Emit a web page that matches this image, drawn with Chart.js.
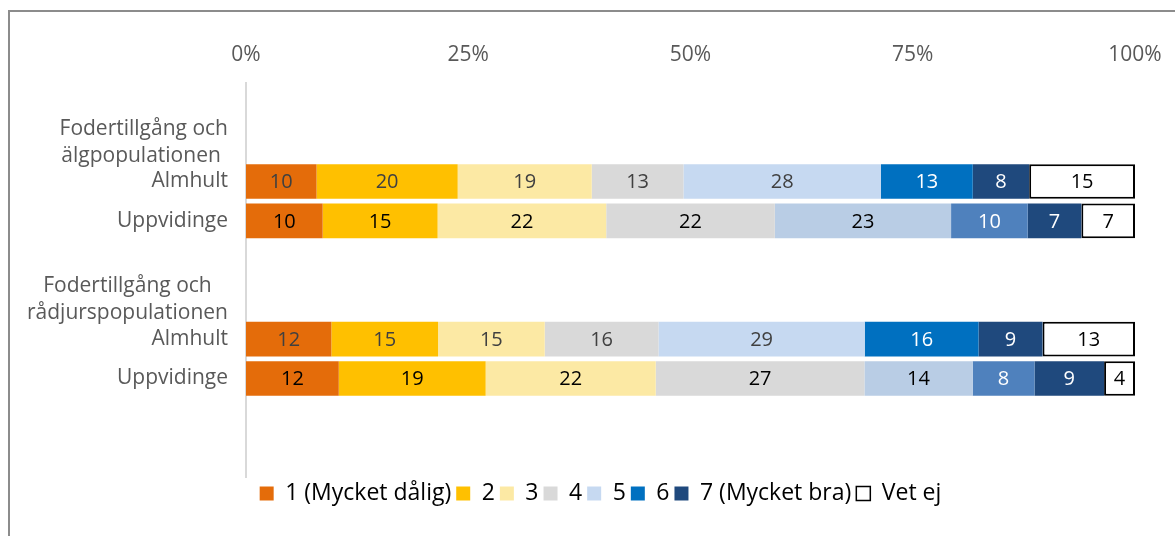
<!DOCTYPE html>
<html>
<head>
<meta charset="utf-8">
<script src="https://cdn.jsdelivr.net/npm/chart.js@4.4.0/dist/chart.umd.min.js"></script>
<style>
html, body { margin: 0; padding: 0; background: #fff; overflow: hidden; }
#ram { position: absolute; left: 8px; top: 10px; width: 1190px; height: 540px; border: 2px solid #8c8c8c; box-sizing: border-box; }
#wrap { position: absolute; left: 0; top: 0; width: 1175px; height: 536px; }
</style>
</head>
<body>
<div id="ram"></div>
<div id="wrap"><canvas id="graf"></canvas></div>
<script>
var rader = ['', '', 'Almhult', 'Uppvidinge', '', '', 'Almhult', 'Uppvidinge', '', ''];
var grupper = {1: ['Fodertillgång och', 'älgpopulationen '], 5: ['Fodertillgång och', 'rådjurspopulationen']};
var serier = ['1 (Mycket dålig)', '2', '3', '4', '5', '6', '7 (Mycket bra)', 'Vet ej'];
var xticks = ['0%', '25%', '50%', '75%', '100%'];

// antal svar, i serieordning 1..7, Vet ej
var alg_almhult = [10, 20, 19, 13, 28, 13, 8, 15];
var alg_uppvidinge = [10, 15, 22, 22, 23, 10, 7, 7];
var radjur_almhult = [12, 15, 15, 16, 29, 16, 9, 13];
var radjur_uppvidinge = [12, 19, 22, 27, 14, 8, 9, 4];

var farger_almhult = ['#E46C0A', '#FFC000', '#FCE9A4', '#D9D9D9', '#C6D9F1', '#0070C0', '#1F497D', '#FFFFFF'];
var farger_uppvidinge = ['#E46C0A', '#FFC000', '#FCE9A4', '#D9D9D9', '#B9CDE5', '#4F81BD', '#1F497D', '#FFFFFF'];

var FONT = '"Open Sans", "Noto Sans", sans-serif';
var radData = {2: alg_almhult, 3: alg_uppvidinge, 6: radjur_almhult, 7: radjur_uppvidinge};

function summa(a) {
	var s = 0;
	a.forEach(function(v) { s += v; });
	return s;
}

function arUppvidinge(j) {
	return rader[j] == 'Uppvidinge';
}

var datasets = serier.map(function(namn, i) {
	var data = [], antal = [], farg = [];
	rader.forEach(function(r, j) {
		var rad = radData[j];
		if (rad) {
			data.push(rad[i] / summa(rad) * 100);
			antal.push(rad[i]);
		} else {
			data.push(null);
			antal.push(null);
		}
		farg.push(arUppvidinge(j) ? farger_uppvidinge[i] : farger_almhult[i]);
	});
	return {
		label: namn,
		data: data,
		antal: antal,
		backgroundColor: farg,
		borderColor: '#000000',
		borderWidth: i == 7 ? 2 : 0,
		borderSkipped: false,
		barPercentage: 0.88,
		categoryPercentage: 1
	};
});

function textfarg(i, j) {
	if (i == 5 || i == 6) return '#FFFFFF';
	if (i == 7) return '#000000';
	return arUppvidinge(j) ? '#000000' : '#404040';
}

var etiketter = {
	id: 'etiketter',
	afterDatasetsDraw: function(chart) {
		var ctx = chart.ctx;
		ctx.save();
		ctx.font = '20px ' + FONT;
		ctx.textAlign = 'center';
		ctx.textBaseline = 'middle';
		chart.data.datasets.forEach(function(ds, i) {
			chart.getDatasetMeta(i).data.forEach(function(bar, j) {
				if (ds.antal[j] == null) return;
				ctx.fillStyle = textfarg(i, j);
				ctx.fillText(ds.antal[j], (bar.x + bar.base) / 2, bar.y + 1);
			});
		});
		ctx.restore();
	}
};

// gruppetiketterna centreras radvis, högerställda som block
var gruppText = {
	id: 'gruppText',
	afterDraw: function(chart) {
		var ctx = chart.ctx;
		var y = chart.scales.y;
		ctx.save();
		ctx.font = '21px ' + FONT;
		ctx.fillStyle = '#595959';
		ctx.textAlign = 'center';
		ctx.textBaseline = 'middle';
		Object.keys(grupper).forEach(function(k) {
			var rader2 = grupper[k];
			var maxW = 0;
			rader2.forEach(function(t) { maxW = Math.max(maxW, ctx.measureText(t).width); });
			var mitt = y.right - 18 - maxW / 2;
			var cy = y.getPixelForValue(parseInt(k));
			rader2.forEach(function(t, n) {
				ctx.fillText(t, mitt, cy + (n - (rader2.length - 1) / 2) * 27);
			});
		});
		ctx.restore();
	}
};

// flytta legenden lite åt höger som i originalet
var legendFlytt = {
	id: 'legendFlytt',
	afterLayout: function(chart) {
		chart.legend.left += 28;
		chart.legend.right += 28;
	}
};

var graf = new Chart(document.getElementById('graf'), {
	type: 'bar',
	data: { labels: rader, datasets: datasets },
	plugins: [etiketter, gruppText, legendFlytt],
	options: {
		indexAxis: 'y',
		responsive: true,
		maintainAspectRatio: false,
		animation: false,
		layout: { padding: { left: 10, right: 40, top: 10, bottom: 21 } },
		scales: {
			x: {
				position: 'top',
				stacked: true,
				min: 0,
				max: 100,
				grid: { display: false },
				border: { display: false },
				ticks: {
					stepSize: 25,
					color: '#595959',
					font: { family: FONT, size: 21 },
					padding: 7,
					callback: function(v) { return xticks[v / 25]; }
				},
				afterFit: function(s) { s.height = 73; }
			},
			y: {
				stacked: true,
				grid: { display: false },
				border: { display: true, color: '#D9D9D9', width: 2 },
				ticks: {
					color: '#595959',
					font: { family: FONT, size: 21 },
					padding: 10,
					autoSkip: false
				},
				afterFit: function(s) { s.width = 236; }
			}
		},
		plugins: {
			tooltip: { enabled: false },
			legend: {
				position: 'bottom',
				labels: {
					color: '#1a1a1a',
					font: { family: FONT, size: 23 },
					boxWidth: 14,
					boxHeight: 14,
					padding: 5,
					generateLabels: function(chart) {
						return serier.map(function(namn, i) {
							return {
								text: namn,
								fillStyle: farger_almhult[i],
								strokeStyle: '#000000',
								lineWidth: i == 7 ? 1.5 : 0,
								datasetIndex: i
							};
						});
					}
				}
			}
		}
	}
});
</script>
</body>
</html>
